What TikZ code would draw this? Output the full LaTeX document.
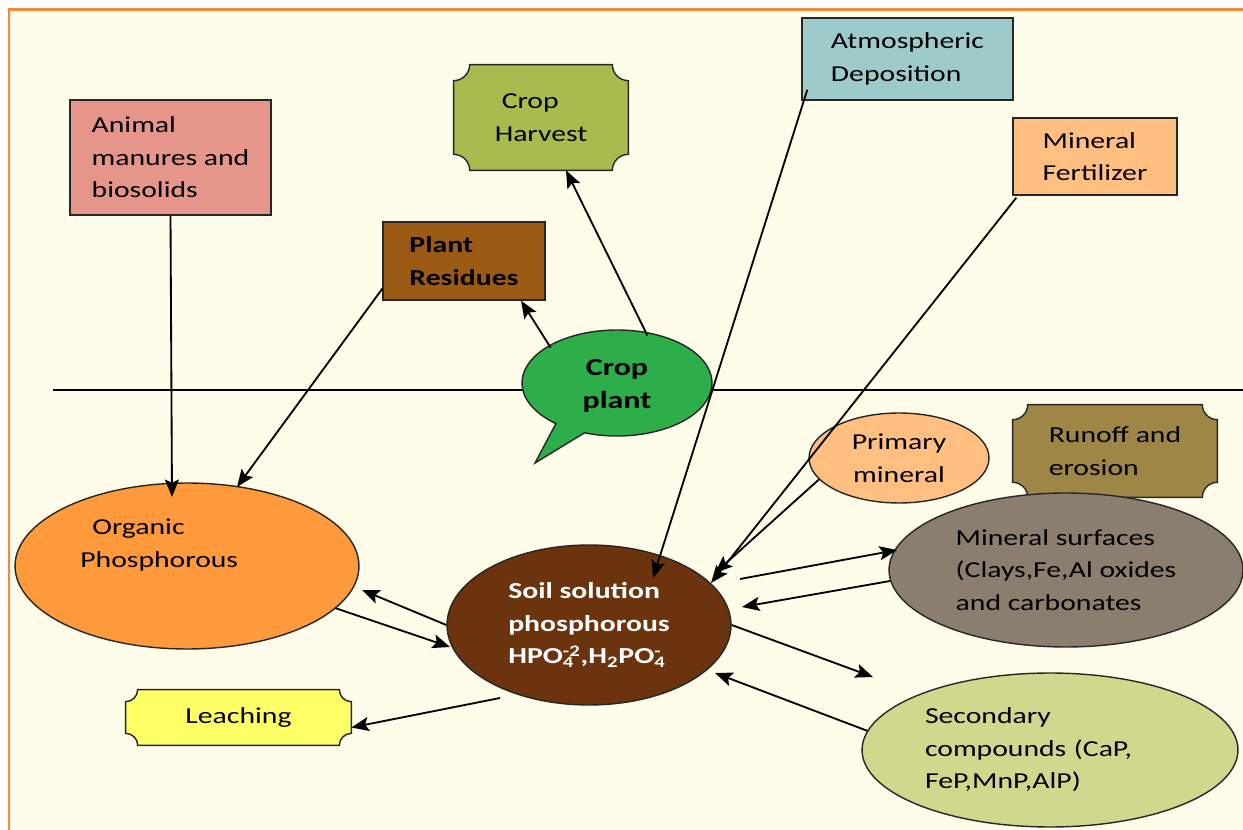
\documentclass[tikz,border=0pt]{standalone}
\usepackage{fontspec}
\setmainfont{Carlito}[FakeStretch=1.3]
\usetikzlibrary{arrows.meta,calc,shapes.geometric,backgrounds}

\definecolor{cream}{HTML}{FFFDE9}
\definecolor{frame}{HTML}{F7883A}
\definecolor{manure}{HTML}{E5958A}
\definecolor{harvest}{HTML}{A9BA4F}
\definecolor{atmos}{HTML}{9DCACB}
\definecolor{fert}{HTML}{FFBF80}
\definecolor{residue}{HTML}{9B5B15}
\definecolor{leaf}{HTML}{2EAE4A}
\definecolor{runoff}{HTML}{9E8646}
\definecolor{organic}{HTML}{FF9A3C}
\definecolor{soil}{HTML}{6C330F}
\definecolor{surface}{HTML}{8C7E6F}
\definecolor{second}{HTML}{CFD88C}
\definecolor{leach}{HTML}{FFFF66}

\newcommand\diagfont{\fontsize{13}{18.5}\selectfont}

% box with scooped (concave) corners round a node
\newcommand\scoop[3]{%
  \filldraw[fill=#3, draw=black!85, line width=0.8pt]
    ($(#1.north west)+(#2,0)$) -- ($(#1.north east)+(-#2,0)$)
    arc[start angle=180, end angle=270, radius=#2]
    -- ($(#1.south east)+(0,#2)$)
    arc[start angle=90, end angle=180, radius=#2]
    -- ($(#1.south west)+(#2,0)$)
    arc[start angle=0, end angle=90, radius=#2]
    -- ($(#1.north west)+(0,-#2)$)
    arc[start angle=270, end angle=360, radius=#2] -- cycle;}

\tikzset{
  box/.style={rectangle, draw=black!85, line width=0.8pt, inner sep=0pt, align=left},
  oval/.style={ellipse, draw=black!85, line width=0.8pt, inner sep=0pt, align=left},
  scooped/.style={rectangle, inner sep=0pt, align=center},
  flow/.style={-{Stealth[length=10pt,width=8pt,inset=2pt]}, line width=1.05pt},
}

\begin{document}
\begin{tikzpicture}[x=0.02cm, y=0.02cm, font=\diagfont]

  \useasboundingbox (0,0) rectangle (1243,-830);

  % === Background and frame ===
  \begin{scope}[on background layer]
    \fill[white] (0,0) rectangle (1243,-830);
    \fill[cream] (9,-10) rectangle (1243,-830);
    \draw[frame, line width=0.06cm] (9,-830) -- (9,-10) -- (1243,-10);
  \end{scope}

  % Soil surface
  \draw[line width=0.7pt] (53,-390) -- (1243,-390);

  % === Above ground ===
  \node[box, fill=manure, minimum width=4.02cm, minimum height=2.3cm] (animal) at (170.5,-157.5) {Animal\\manures and\\biosolids};
  \node[scooped, minimum width=3.48cm, minimum height=2.1cm, align=left] (harvest) at (541,-117.5) {\hspace{0.14cm}Crop\\Harvest};
  \node[box, fill=atmos, minimum width=4.22cm, minimum height=1.64cm] (atmos) at (907.5,-59) {Atmospheric\\Deposition};
  \node[box, fill=fert, minimum width=3.28cm, minimum height=1.54cm] (fert) at (1095,-156.5) {Mineral\\Fertilizer};
  \node[box, fill=residue, minimum width=3.24cm, minimum height=1.56cm, font=\diagfont\bfseries] (residues) at (464,-261) {Plant\\Residues};

  % Crop plant bubble
  \filldraw[fill=leaf, draw=black!85, line width=0.8pt]
    ([shift={(617,-383)}]230:95 and 53) -- (535,-463) -- ([shift={(617,-383)}]250:95 and 53)
    arc[start angle=250, end angle=590, x radius=95, y radius=53] -- cycle;
  \node[ellipse, inner sep=0pt, minimum width=3.8cm, minimum height=2.12cm, align=center,
    font=\fontsize{14}{19}\selectfont\bfseries] (plant) at (617,-386) {Crop\\plant};

  % === Below ground ===
  \node[oval, fill=fert, minimum width=3.6cm, minimum height=1.8cm, align=center] (primary) at (899,-458) {Primary\\mineral};
  \node[scooped, minimum width=4.08cm, minimum height=1.84cm, align=left] (runoff) at (1115,-451) {Runoff and\\erosion};
  \node[oval, fill=organic, minimum width=6.88cm, minimum height=3.32cm] (organic) at (187,-566) {};
  \node[anchor=west, align=left, inner sep=0pt] (orgtext) at (80,-545) {\hspace{0.24cm}Organic\\Phosphorous};
  \node[oval, fill=soil, text=white, font=\diagfont\bfseries, minimum width=5.68cm, minimum height=3.2cm] (soil) at (589,-625)
    {Soil solution\\phosphorous\\HPO\rlap{\textsubscript{4}}\textsuperscript{-2},H\textsubscript{2}PO\rlap{\textsubscript{4}}\textsuperscript{-}};
  \node[oval, fill=surface, minimum width=7.08cm, minimum height=3.08cm] (msurf) at (1066,-570) {Mineral surfaces\\(Clays,Fe,Al oxides\\and carbonates};
  \node[oval, fill=second, minimum width=7.52cm, minimum height=3.08cm, text width=5cm] (second) at (1050,-750) {Secondary\\compounds (CaP,\\FeP,MnP,AlP)};
  \node[scooped, minimum width=4.5cm, minimum height=1.1cm] (leach) at (238.5,-717.5) {Leaching};

  % Scooped boxes behind their texts
  \begin{scope}[on background layer]
    \scoop{harvest}{16}{harvest}
    \scoop{runoff}{15}{runoff}
    \scoop{leach}{12}{leach}
  \end{scope}

  % === Flows ===
  \draw[flow] (animal.south) -- ($(organic)+(-15,69)$);
  \draw[flow] ($(residues.south west)+(0,12)$) -- ($(organic)+(50,79)$);
  \draw[flow] (plant.150) -- ($(residues.south)+(57,0)$);
  \draw[flow] (plant.59) -- ($(harvest.south)+(25,0)$);
  \draw[flow] ($(atmos.south west)+(6,11)$) -- ($(soil)+(64,47)$);
  \draw[flow] ($(fert.south west)+(4,-2)$) -- ($(soil)+(122,42)$);
  \draw[flow] (primary.195) -- ($(soil)+(126,52)$);
  \draw[flow] ($(soil)+(151,46)$) -- ($(msurf)+(-169,20)$);
  \draw[flow] ($(msurf)+(-176,-11)$) -- ($(soil)+(153,18)$);
  \draw[flow] (soil.east) -- ($(second)+(-177,73)$);
  \draw[flow] (second.174) -- ($(soil)+(126,-48)$);
  \draw[flow] ($(organic)+(148,-42)$) -- ($(soil)+(-139,-22)$);
  \draw[flow] (soil.west) -- ($(organic)+(175,-24)$);
  \draw[flow] ($(soil)+(-89,-73)$) -- ($(leach.east)+(0,-10)$);

\end{tikzpicture}
\end{document}
